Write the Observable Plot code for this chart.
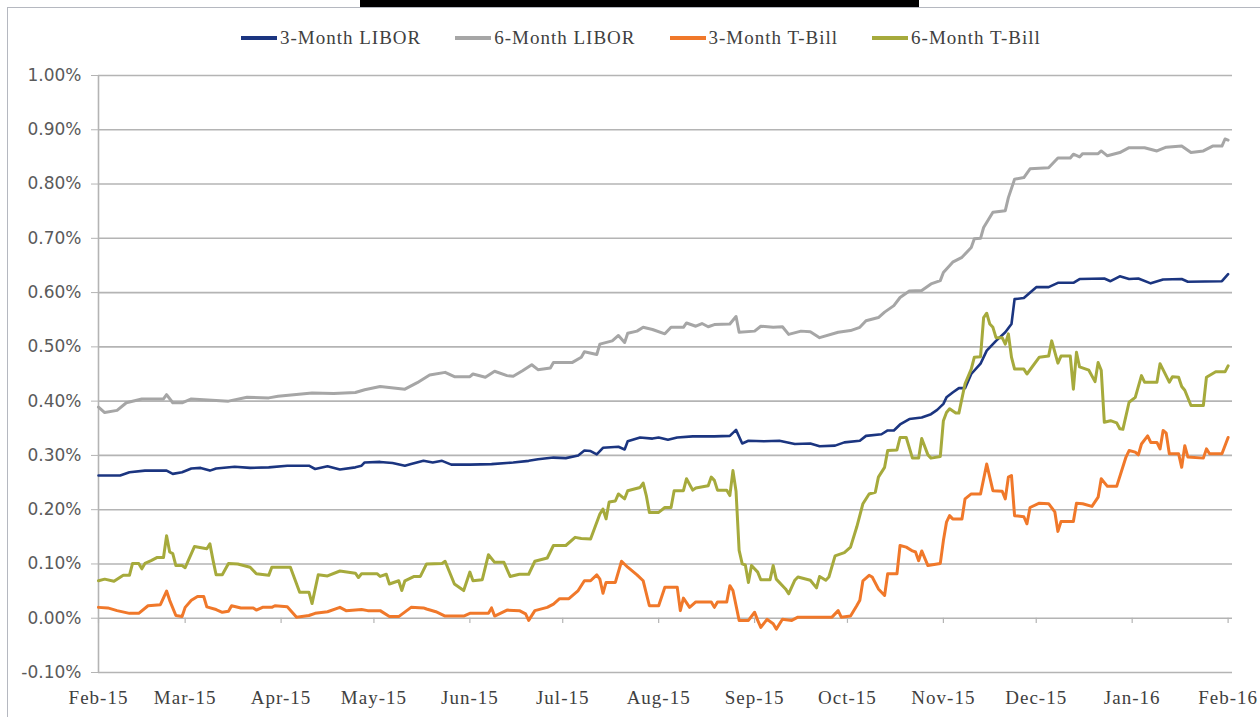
<!DOCTYPE html>
<html><head><meta charset="utf-8">
<script src="https://cdn.jsdelivr.net/npm/d3@7"></script>
<script src="https://cdn.jsdelivr.net/npm/@observablehq/plot@0.6"></script>
<style>
html,body{margin:0;padding:0;background:#fff;}
#wrap{position:relative;width:1260px;height:717px;overflow:hidden;background:#fff;}
#frame{position:absolute;left:7px;top:7px;width:1300px;height:800px;border-left:1.5px solid #b5b8c0;border-top:1.5px solid #b5b8c0;}
#titlebar{position:absolute;left:360px;top:0;width:559px;height:7px;background:#000;}
#legend{position:absolute;left:241px;top:27px;display:flex;gap:34px;align-items:center;font-family:"Liberation Serif";font-size:19px;letter-spacing:1px;color:#404040;white-space:nowrap;line-height:22px;}
.item{display:flex;align-items:center;gap:3px;}
.sw{width:36px;height:4px;}
#chart{position:absolute;left:0;top:0;}
svg g[aria-label="x-axis tick label"] text{letter-spacing:1px;}
</style></head>
<body>
<div id="wrap">
  <div id="frame"></div>
  <div id="titlebar"></div>
  <div id="legend"></div>
  <div id="chart"></div>
</div>
<script>
const seriesNames = ["3-Month LIBOR", "6-Month LIBOR", "3-Month T-Bill", "6-Month T-Bill"];
const seriesColors = ["#1b3580", "#a6a6a6", "#f0782a", "#a6aa3c"];

const yTickValues = [-0.1, 0, 0.1, 0.2, 0.3, 0.4, 0.5, 0.6, 0.7, 0.8, 0.9, 1.0];
const monthTickLabels = ["2015-02-01","2015-03-01","2015-04-01","2015-05-01","2015-06-01","2015-07-01","2015-08-01","2015-09-01","2015-10-01","2015-11-01","2015-12-01","2016-01-01","2016-02-01"];

const libor3m = [["2015-02-01",0.263],["2015-02-08",0.263],["2015-02-11",0.269],["2015-02-16",0.272],["2015-02-23",0.272],["2015-02-25",0.266],["2015-02-28",0.269],["2015-03-03",0.276],["2015-03-06",0.277],["2015-03-09",0.272],["2015-03-11",0.276],["2015-03-17",0.279],["2015-03-22",0.277],["2015-03-28",0.278],["2015-04-03",0.281],["2015-04-10",0.281],["2015-04-12",0.275],["2015-04-16",0.280],["2015-04-20",0.274],["2015-04-25",0.278],["2015-04-27",0.281],["2015-04-28",0.287],["2015-05-03",0.288],["2015-05-07",0.286],["2015-05-11",0.281],["2015-05-13",0.284],["2015-05-17",0.290],["2015-05-20",0.287],["2015-05-23",0.290],["2015-05-26",0.283],["2015-06-01",0.283],["2015-06-08",0.284],["2015-06-15",0.287],["2015-06-20",0.290],["2015-06-23",0.293],["2015-06-28",0.296],["2015-07-02",0.295],["2015-07-06",0.300],["2015-07-08",0.309],["2015-07-10",0.308],["2015-07-12",0.302],["2015-07-14",0.314],["2015-07-19",0.316],["2015-07-21",0.311],["2015-07-22",0.326],["2015-07-26",0.333],["2015-07-30",0.331],["2015-08-01",0.333],["2015-08-04",0.329],["2015-08-07",0.333],["2015-08-12",0.335],["2015-08-19",0.335],["2015-08-24",0.336],["2015-08-26",0.347],["2015-08-28",0.322],["2015-08-30",0.327],["2015-09-04",0.326],["2015-09-09",0.327],["2015-09-14",0.321],["2015-09-19",0.322],["2015-09-22",0.317],["2015-09-27",0.318],["2015-09-30",0.324],["2015-10-05",0.327],["2015-10-07",0.336],["2015-10-12",0.339],["2015-10-14",0.346],["2015-10-16",0.346],["2015-10-18",0.357],["2015-10-21",0.367],["2015-10-25",0.370],["2015-10-28",0.376],["2015-10-30",0.384],["2015-11-01",0.395],["2015-11-02",0.407],["2015-11-04",0.416],["2015-11-06",0.424],["2015-11-08",0.424],["2015-11-10",0.450],["2015-11-13",0.469],["2015-11-15",0.493],["2015-11-18",0.511],["2015-11-21",0.527],["2015-11-23",0.542],["2015-11-24",0.588],["2015-11-27",0.590],["2015-12-01",0.610],["2015-12-05",0.610],["2015-12-08",0.618],["2015-12-13",0.618],["2015-12-15",0.625],["2015-12-23",0.626],["2015-12-25",0.621],["2015-12-28",0.630],["2015-12-31",0.625],["2016-01-03",0.626],["2016-01-07",0.617],["2016-01-11",0.624],["2016-01-17",0.625],["2016-01-19",0.620],["2016-01-30",0.621],["2016-02-01",0.634]];

const libor6m = [["2015-02-01",0.389],["2015-02-03",0.379],["2015-02-07",0.383],["2015-02-10",0.397],["2015-02-15",0.404],["2015-02-22",0.404],["2015-02-23",0.412],["2015-02-25",0.397],["2015-02-28",0.397],["2015-03-03",0.404],["2015-03-15",0.400],["2015-03-21",0.407],["2015-03-28",0.406],["2015-03-31",0.409],["2015-04-11",0.415],["2015-04-18",0.414],["2015-04-25",0.416],["2015-04-28",0.421],["2015-05-03",0.427],["2015-05-11",0.422],["2015-05-15",0.434],["2015-05-19",0.448],["2015-05-24",0.453],["2015-05-27",0.445],["2015-06-01",0.445],["2015-06-02",0.450],["2015-06-06",0.444],["2015-06-09",0.455],["2015-06-13",0.447],["2015-06-15",0.446],["2015-06-18",0.456],["2015-06-21",0.467],["2015-06-23",0.458],["2015-06-27",0.461],["2015-06-28",0.471],["2015-07-04",0.471],["2015-07-07",0.481],["2015-07-08",0.491],["2015-07-12",0.486],["2015-07-13",0.505],["2015-07-17",0.511],["2015-07-19",0.521],["2015-07-21",0.508],["2015-07-22",0.525],["2015-07-25",0.529],["2015-07-27",0.536],["2015-07-30",0.532],["2015-08-03",0.524],["2015-08-05",0.536],["2015-08-09",0.536],["2015-08-10",0.544],["2015-08-13",0.538],["2015-08-15",0.543],["2015-08-17",0.537],["2015-08-19",0.541],["2015-08-24",0.542],["2015-08-26",0.556],["2015-08-27",0.527],["2015-09-01",0.529],["2015-09-03",0.538],["2015-09-07",0.536],["2015-09-10",0.537],["2015-09-12",0.523],["2015-09-16",0.529],["2015-09-19",0.528],["2015-09-22",0.517],["2015-09-28",0.527],["2015-10-02",0.530],["2015-10-05",0.536],["2015-10-07",0.548],["2015-10-11",0.554],["2015-10-13",0.564],["2015-10-16",0.576],["2015-10-18",0.591],["2015-10-21",0.603],["2015-10-25",0.604],["2015-10-28",0.616],["2015-10-31",0.622],["2015-11-01",0.637],["2015-11-04",0.656],["2015-11-07",0.665],["2015-11-10",0.683],["2015-11-11",0.699],["2015-11-13",0.700],["2015-11-14",0.720],["2015-11-17",0.748],["2015-11-21",0.751],["2015-11-22",0.775],["2015-11-24",0.809],["2015-11-27",0.812],["2015-11-29",0.828],["2015-12-05",0.830],["2015-12-08",0.848],["2015-12-12",0.848],["2015-12-13",0.855],["2015-12-15",0.850],["2015-12-16",0.856],["2015-12-21",0.856],["2015-12-22",0.861],["2015-12-24",0.852],["2015-12-28",0.858],["2015-12-31",0.867],["2016-01-05",0.867],["2016-01-09",0.861],["2016-01-12",0.868],["2016-01-17",0.870],["2016-01-20",0.858],["2016-01-24",0.861],["2016-01-27",0.870],["2016-01-30",0.870],["2016-01-31",0.883],["2016-02-01",0.881]];

const tbill3m = [["2015-02-01",0.020],["2015-02-04",0.019],["2015-02-07",0.014],["2015-02-11",0.009],["2015-02-14",0.009],["2015-02-17",0.023],["2015-02-21",0.025],["2015-02-23",0.050],["2015-02-24",0.033],["2015-02-26",0.005],["2015-02-28",0.003],["2015-03-01",0.020],["2015-03-03",0.033],["2015-03-05",0.040],["2015-03-07",0.040],["2015-03-08",0.021],["2015-03-11",0.016],["2015-03-13",0.011],["2015-03-15",0.013],["2015-03-16",0.023],["2015-03-19",0.019],["2015-03-23",0.019],["2015-03-24",0.015],["2015-03-26",0.020],["2015-03-29",0.020],["2015-03-30",0.023],["2015-04-03",0.021],["2015-04-06",0.002],["2015-04-10",0.005],["2015-04-12",0.009],["2015-04-16",0.012],["2015-04-20",0.020],["2015-04-22",0.014],["2015-04-27",0.016],["2015-04-29",0.014],["2015-05-03",0.014],["2015-05-06",0.003],["2015-05-09",0.003],["2015-05-13",0.020],["2015-05-17",0.019],["2015-05-18",0.017],["2015-05-21",0.012],["2015-05-24",0.004],["2015-05-30",0.004],["2015-06-01",0.009],["2015-06-07",0.009],["2015-06-08",0.019],["2015-06-09",0.004],["2015-06-13",0.015],["2015-06-17",0.014],["2015-06-19",0.008],["2015-06-20",-0.004],["2015-06-22",0.014],["2015-06-26",0.020],["2015-06-28",0.026],["2015-06-30",0.036],["2015-07-03",0.036],["2015-07-06",0.051],["2015-07-08",0.069],["2015-07-10",0.069],["2015-07-12",0.080],["2015-07-13",0.072],["2015-07-14",0.046],["2015-07-15",0.066],["2015-07-18",0.066],["2015-07-20",0.105],["2015-07-22",0.094],["2015-07-25",0.080],["2015-07-27",0.069],["2015-07-29",0.023],["2015-08-01",0.023],["2015-08-03",0.057],["2015-08-07",0.057],["2015-08-08",0.014],["2015-08-09",0.037],["2015-08-11",0.020],["2015-08-13",0.030],["2015-08-18",0.030],["2015-08-19",0.020],["2015-08-20",0.030],["2015-08-23",0.030],["2015-08-24",0.060],["2015-08-25",0.051],["2015-08-27",-0.004],["2015-08-30",-0.004],["2015-09-01",0.011],["2015-09-02",-0.004],["2015-09-03",-0.017],["2015-09-05",-0.002],["2015-09-07",-0.010],["2015-09-08",-0.020],["2015-09-10",-0.002],["2015-09-13",-0.004],["2015-09-15",0.002],["2015-09-26",0.002],["2015-09-28",0.014],["2015-09-29",0.002],["2015-10-02",0.004],["2015-10-04",0.023],["2015-10-05",0.033],["2015-10-06",0.069],["2015-10-08",0.079],["2015-10-09",0.076],["2015-10-11",0.054],["2015-10-13",0.042],["2015-10-14",0.082],["2015-10-17",0.082],["2015-10-18",0.134],["2015-10-20",0.131],["2015-10-22",0.124],["2015-10-23",0.122],["2015-10-24",0.106],["2015-10-25",0.124],["2015-10-27",0.097],["2015-10-31",0.101],["2015-11-01",0.143],["2015-11-02",0.177],["2015-11-03",0.189],["2015-11-04",0.183],["2015-11-07",0.183],["2015-11-08",0.220],["2015-11-10",0.229],["2015-11-13",0.229],["2015-11-15",0.284],["2015-11-17",0.235],["2015-11-20",0.234],["2015-11-21",0.220],["2015-11-22",0.260],["2015-11-23",0.263],["2015-11-24",0.189],["2015-11-27",0.187],["2015-11-28",0.174],["2015-11-29",0.204],["2015-12-02",0.212],["2015-12-05",0.211],["2015-12-07",0.196],["2015-12-08",0.160],["2015-12-09",0.178],["2015-12-13",0.178],["2015-12-14",0.212],["2015-12-16",0.211],["2015-12-19",0.206],["2015-12-21",0.223],["2015-12-22",0.257],["2015-12-24",0.243],["2015-12-27",0.243],["2015-12-30",0.297],["2015-12-31",0.309],["2016-01-02",0.306],["2016-01-03",0.301],["2016-01-04",0.321],["2016-01-06",0.336],["2016-01-07",0.324],["2016-01-09",0.324],["2016-01-10",0.312],["2016-01-11",0.346],["2016-01-12",0.341],["2016-01-13",0.303],["2016-01-16",0.303],["2016-01-17",0.278],["2016-01-18",0.318],["2016-01-19",0.297],["2016-01-24",0.295],["2016-01-25",0.312],["2016-01-26",0.303],["2016-01-30",0.303],["2016-02-01",0.333]];

const tbill6m = [["2015-02-01",0.069],["2015-02-03",0.072],["2015-02-06",0.068],["2015-02-09",0.079],["2015-02-11",0.079],["2015-02-12",0.101],["2015-02-14",0.101],["2015-02-15",0.091],["2015-02-16",0.101],["2015-02-18",0.106],["2015-02-20",0.112],["2015-02-22",0.112],["2015-02-23",0.152],["2015-02-24",0.122],["2015-02-25",0.119],["2015-02-26",0.097],["2015-02-28",0.097],["2015-03-01",0.093],["2015-03-02",0.106],["2015-03-04",0.132],["2015-03-08",0.128],["2015-03-09",0.137],["2015-03-10",0.107],["2015-03-11",0.080],["2015-03-13",0.080],["2015-03-15",0.101],["2015-03-18",0.100],["2015-03-22",0.094],["2015-03-24",0.082],["2015-03-28",0.079],["2015-03-29",0.094],["2015-04-04",0.094],["2015-04-07",0.048],["2015-04-10",0.048],["2015-04-11",0.027],["2015-04-13",0.080],["2015-04-16",0.078],["2015-04-20",0.087],["2015-04-25",0.083],["2015-04-26",0.075],["2015-04-27",0.082],["2015-05-02",0.082],["2015-05-03",0.077],["2015-05-05",0.081],["2015-05-06",0.063],["2015-05-09",0.069],["2015-05-10",0.051],["2015-05-11",0.069],["2015-05-14",0.077],["2015-05-16",0.077],["2015-05-18",0.100],["2015-05-23",0.101],["2015-05-24",0.105],["2015-05-27",0.063],["2015-05-30",0.051],["2015-06-01",0.085],["2015-06-02",0.069],["2015-06-05",0.071],["2015-06-07",0.117],["2015-06-09",0.103],["2015-06-12",0.103],["2015-06-14",0.077],["2015-06-17",0.081],["2015-06-20",0.081],["2015-06-22",0.105],["2015-06-26",0.111],["2015-06-28",0.134],["2015-07-02",0.134],["2015-07-05",0.149],["2015-07-07",0.147],["2015-07-10",0.146],["2015-07-13",0.192],["2015-07-14",0.201],["2015-07-15",0.183],["2015-07-16",0.214],["2015-07-18",0.216],["2015-07-19",0.229],["2015-07-21",0.220],["2015-07-22",0.235],["2015-07-26",0.241],["2015-07-27",0.249],["2015-07-28",0.226],["2015-07-29",0.195],["2015-08-01",0.195],["2015-08-03",0.204],["2015-08-05",0.204],["2015-08-06",0.235],["2015-08-09",0.235],["2015-08-10",0.257],["2015-08-12",0.236],["2015-08-13",0.240],["2015-08-17",0.244],["2015-08-18",0.260],["2015-08-19",0.254],["2015-08-20",0.236],["2015-08-23",0.236],["2015-08-24",0.226],["2015-08-25",0.272],["2015-08-26",0.234],["2015-08-27",0.125],["2015-08-28",0.100],["2015-08-29",0.098],["2015-08-30",0.066],["2015-08-31",0.097],["2015-09-02",0.085],["2015-09-03",0.071],["2015-09-06",0.071],["2015-09-07",0.097],["2015-09-08",0.072],["2015-09-11",0.054],["2015-09-12",0.045],["2015-09-14",0.070],["2015-09-15",0.076],["2015-09-19",0.070],["2015-09-21",0.056],["2015-09-22",0.077],["2015-09-24",0.070],["2015-09-25",0.076],["2015-09-27",0.115],["2015-09-30",0.121],["2015-10-02",0.131],["2015-10-04",0.168],["2015-10-06",0.211],["2015-10-08",0.229],["2015-10-10",0.232],["2015-10-11",0.260],["2015-10-13",0.278],["2015-10-14",0.309],["2015-10-17",0.310],["2015-10-18",0.333],["2015-10-20",0.333],["2015-10-22",0.295],["2015-10-24",0.295],["2015-10-25",0.331],["2015-10-27",0.301],["2015-10-28",0.295],["2015-10-31",0.298],["2015-11-01",0.364],["2015-11-02",0.379],["2015-11-03",0.386],["2015-11-05",0.378],["2015-11-06",0.378],["2015-11-08",0.432],["2015-11-10",0.459],["2015-11-11",0.481],["2015-11-13",0.482],["2015-11-14",0.554],["2015-11-15",0.562],["2015-11-16",0.542],["2015-11-17",0.536],["2015-11-18",0.517],["2015-11-20",0.517],["2015-11-21",0.505],["2015-11-22",0.524],["2015-11-23",0.481],["2015-11-24",0.459],["2015-11-27",0.459],["2015-11-28",0.450],["2015-12-02",0.481],["2015-12-05",0.483],["2015-12-06",0.511],["2015-12-08",0.470],["2015-12-09",0.483],["2015-12-12",0.483],["2015-12-13",0.422],["2015-12-14",0.490],["2015-12-15",0.463],["2015-12-18",0.457],["2015-12-20",0.436],["2015-12-21",0.471],["2015-12-22",0.457],["2015-12-23",0.361],["2015-12-25",0.364],["2015-12-27",0.360],["2015-12-28",0.349],["2015-12-29",0.348],["2015-12-31",0.398],["2016-01-02",0.407],["2016-01-04",0.447],["2016-01-05",0.435],["2016-01-09",0.435],["2016-01-10",0.469],["2016-01-13",0.435],["2016-01-14",0.445],["2016-01-16",0.444],["2016-01-17",0.427],["2016-01-18",0.420],["2016-01-20",0.392],["2016-01-24",0.392],["2016-01-25",0.444],["2016-01-28",0.454],["2016-01-31",0.454],["2016-02-01",0.465]];

const seriesValues = [libor3m, libor6m, tbill3m, tbill6m];

// build table
const table = seriesValues.flatMap((arr, i) =>
  arr.map(([d, v]) => ({date: new Date(d + "T00:00:00Z"), value: v, series: seriesNames[i]})));
const monthTicks = monthTickLabels.map(d => new Date(d + "T00:00:00Z"));
const xStart = new Date("2015-02-01T00:00:00Z");
const xEnd = new Date("2016-02-02T10:00:00Z");
const gridColor = "#b4b4b4";

// legend
const legend = document.getElementById("legend");
seriesNames.forEach((n, i) => {
  const it = document.createElement("div");
  it.className = "item";
  const sw = document.createElement("div");
  sw.className = "sw";
  sw.style.background = seriesColors[i];
  const tx = document.createElement("span");
  tx.textContent = n;
  it.appendChild(sw); it.appendChild(tx);
  legend.appendChild(it);
});

const chart = Plot.plot({
  width: 1260,
  height: 717,
  marginLeft: 98,
  marginRight: 28,
  marginTop: 75,
  marginBottom: 45,
  style: {background: "transparent", overflow: "visible"},
  x: {type: "utc", domain: [xStart, xEnd]},
  y: {domain: [-0.1, 1.0]},
  color: {domain: seriesNames, range: seriesColors},
  marks: [
    Plot.ruleY(yTickValues, {stroke: gridColor, strokeWidth: 1.6}),
    Plot.ruleX([xStart], {stroke: gridColor, strokeWidth: 1.6}),
    Plot.ruleX(monthTicks, {y1: 0, y2: -0.0095, stroke: gridColor, strokeWidth: 1.2}),
    Plot.axisY(yTickValues, {
      tickSize: 7, tickPadding: 10, label: null,
      tickFormat: d => d.toFixed(2) + "%",
      fontSize: 17, fontFamily: "DejaVu Sans", fill: "#5a5a5a", stroke: gridColor
    }),
    Plot.axisX(monthTicks, {
      tickSize: 0, tickPadding: 18, label: null,
      tickFormat: d3.utcFormat("%b-%y"),
      fontSize: 19, fontFamily: "Liberation Serif", fill: "#404040"
    }),
    ...seriesNames.map((n, i) =>
      Plot.line(table.filter(d => d.series === n), {
        x: "date", y: "value", stroke: seriesColors[i],
        strokeWidth: i === 0 ? 2.6 : 3, strokeLinejoin: "round", curve: "linear"
      }))
  ]
});
document.getElementById("chart").appendChild(chart);
</script>
</body></html>
